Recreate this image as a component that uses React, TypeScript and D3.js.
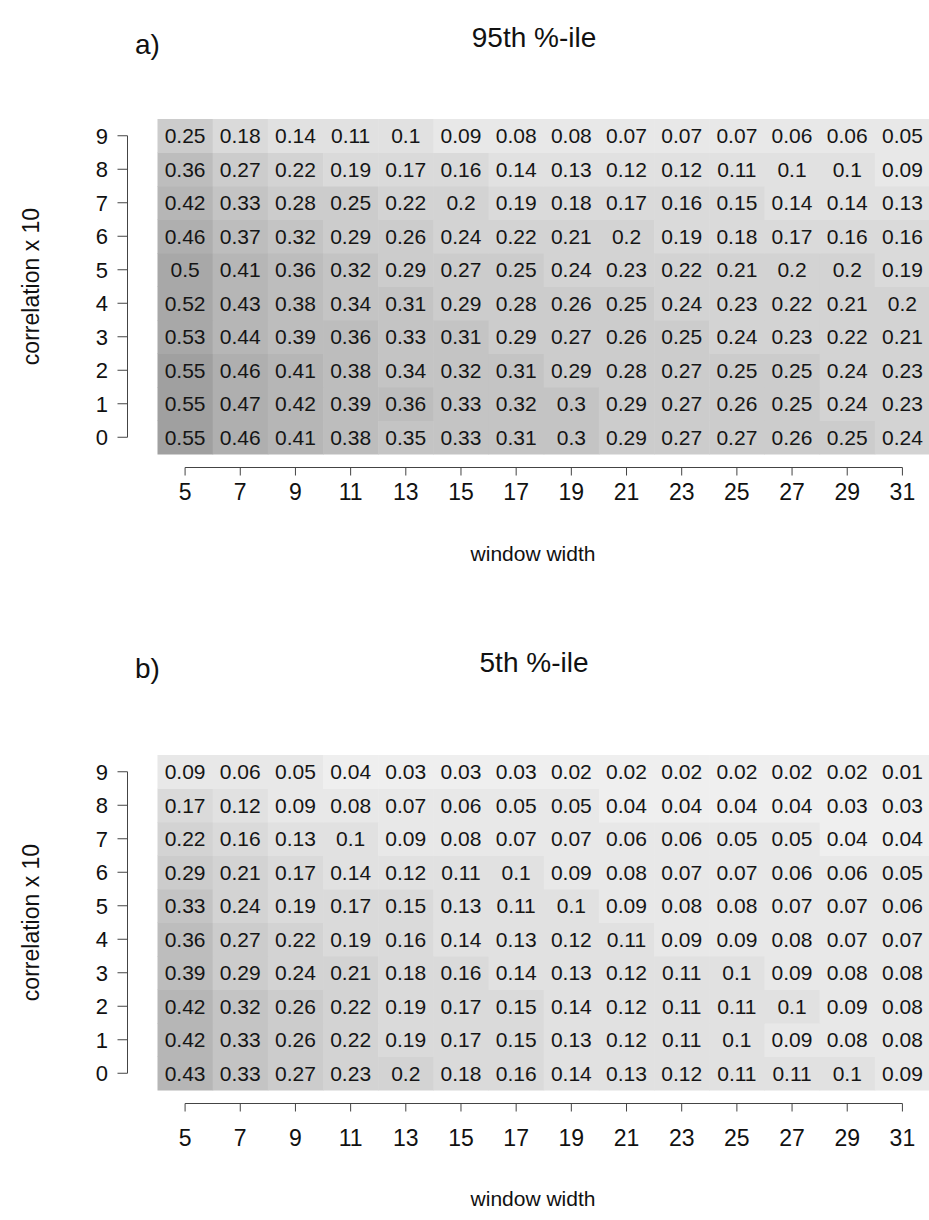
import React from "react";
import * as d3 from "d3";

const windowWidths = [5, 7, 9, 11, 13, 15, 17, 19, 21, 23, 25, 27, 29, 31];
const correlations = [0, 1, 2, 3, 4, 5, 6, 7, 8, 9];

// rows indexed by correlation x 10 (0..9), columns by window width
const p95: number[][] = [
  [0.55, 0.46, 0.41, 0.38, 0.35, 0.33, 0.31, 0.3, 0.29, 0.27, 0.27, 0.26, 0.25, 0.24],
  [0.55, 0.47, 0.42, 0.39, 0.36, 0.33, 0.32, 0.3, 0.29, 0.27, 0.26, 0.25, 0.24, 0.23],
  [0.55, 0.46, 0.41, 0.38, 0.34, 0.32, 0.31, 0.29, 0.28, 0.27, 0.25, 0.25, 0.24, 0.23],
  [0.53, 0.44, 0.39, 0.36, 0.33, 0.31, 0.29, 0.27, 0.26, 0.25, 0.24, 0.23, 0.22, 0.21],
  [0.52, 0.43, 0.38, 0.34, 0.31, 0.29, 0.28, 0.26, 0.25, 0.24, 0.23, 0.22, 0.21, 0.2],
  [0.5, 0.41, 0.36, 0.32, 0.29, 0.27, 0.25, 0.24, 0.23, 0.22, 0.21, 0.2, 0.2, 0.19],
  [0.46, 0.37, 0.32, 0.29, 0.26, 0.24, 0.22, 0.21, 0.2, 0.19, 0.18, 0.17, 0.16, 0.16],
  [0.42, 0.33, 0.28, 0.25, 0.22, 0.2, 0.19, 0.18, 0.17, 0.16, 0.15, 0.14, 0.14, 0.13],
  [0.36, 0.27, 0.22, 0.19, 0.17, 0.16, 0.14, 0.13, 0.12, 0.12, 0.11, 0.1, 0.1, 0.09],
  [0.25, 0.18, 0.14, 0.11, 0.1, 0.09, 0.08, 0.08, 0.07, 0.07, 0.07, 0.06, 0.06, 0.05],
];

const p5: number[][] = [
  [0.43, 0.33, 0.27, 0.23, 0.2, 0.18, 0.16, 0.14, 0.13, 0.12, 0.11, 0.11, 0.1, 0.09],
  [0.42, 0.33, 0.26, 0.22, 0.19, 0.17, 0.15, 0.13, 0.12, 0.11, 0.1, 0.09, 0.08, 0.08],
  [0.42, 0.32, 0.26, 0.22, 0.19, 0.17, 0.15, 0.14, 0.12, 0.11, 0.11, 0.1, 0.09, 0.08],
  [0.39, 0.29, 0.24, 0.21, 0.18, 0.16, 0.14, 0.13, 0.12, 0.11, 0.1, 0.09, 0.08, 0.08],
  [0.36, 0.27, 0.22, 0.19, 0.16, 0.14, 0.13, 0.12, 0.11, 0.09, 0.09, 0.08, 0.07, 0.07],
  [0.33, 0.24, 0.19, 0.17, 0.15, 0.13, 0.11, 0.1, 0.09, 0.08, 0.08, 0.07, 0.07, 0.06],
  [0.29, 0.21, 0.17, 0.14, 0.12, 0.11, 0.1, 0.09, 0.08, 0.07, 0.07, 0.06, 0.06, 0.05],
  [0.22, 0.16, 0.13, 0.1, 0.09, 0.08, 0.07, 0.07, 0.06, 0.06, 0.05, 0.05, 0.04, 0.04],
  [0.17, 0.12, 0.09, 0.08, 0.07, 0.06, 0.05, 0.05, 0.04, 0.04, 0.04, 0.04, 0.03, 0.03],
  [0.09, 0.06, 0.05, 0.04, 0.03, 0.03, 0.03, 0.02, 0.02, 0.02, 0.02, 0.02, 0.02, 0.01],
];

const panelLetters = ["a)", "b)"];
const panelTitles = ["95th %-ile", "5th %-ile"];
const xTitle = "window width";
const yTitle = "correlation x 10";

const FONT = "'Liberation Sans', Arial, Helvetica, sans-serif";
const W = 929;
const H = 1220;

const grayLin = d3.scaleLinear<string>().domain([0, 0.55]).range(["#f3f3f3", "#a4a4a4"]);
const nBins = 12;
const color = d3
  .scaleQuantize<string>()
  .domain([0, 0.6])
  .range(d3.range(nBins).map((i) => grayLin((i + 0.5) * (0.6 / nBins))));

type Layout = {
  letterY: number;
  titleY: number;
  gridTop: number;
  gridBottom: number;
  axisY: number;
  labelY: number;
  xTitleY: number;
};

const layouts: Layout[] = [
  { letterY: 54, titleY: 47, gridTop: 119, gridBottom: 454, axisY: 467.5, labelY: 492, xTitleY: 553 },
  { letterY: 678, titleY: 672, gridTop: 755, gridBottom: 1090, axisY: 1103.5, labelY: 1138, xTitleY: 1198 },
];

function Panel({ data, idx }: { data: number[][]; idx: number }) {
  const L = layouts[idx];
  const x = d3.scaleBand<number>().domain(windowWidths).range([157.5, 930]).padding(0);
  const y = d3
    .scaleBand<number>()
    .domain([...correlations].reverse())
    .range([L.gridTop, L.gridBottom])
    .padding(0);
  const xc = (w: number) => (x(w) as number) + x.bandwidth() / 2;
  const yc = (c: number) => (y(c) as number) + y.bandwidth() / 2;
  const axisColor = "#444";
  const yAxisX = 127.5;
  const midY = (yc(0) + yc(9)) / 2;
  return (
    <g>
      <text x={135} y={L.letterY} fontSize={28} fontFamily={FONT} fill="#111">
        {panelLetters[idx]}
      </text>
      <text x={534} y={L.titleY} fontSize={28} fontFamily={FONT} fill="#111" textAnchor="middle">
        {panelTitles[idx]}
      </text>
      {correlations.map((c) =>
        windowWidths.map((w, j) => (
          <rect
            key={`r${c}-${w}`}
            x={x(w)}
            y={y(c)}
            width={x.bandwidth() + 0.5}
            height={y.bandwidth() + 0.5}
            fill={color(data[c][j])}
          />
        ))
      )}
      {correlations.map((c) =>
        windowWidths.map((w, j) => (
          <text
            key={`t${c}-${w}`}
            x={xc(w)}
            y={yc(c)}
            dy="0.36em"
            textAnchor="middle"
            fontSize={21}
            fontFamily={FONT}
            fill="#151515"
          >
            {String(data[c][j])}
          </text>
        ))
      )}
      {/* y axis */}
      <line x1={yAxisX} x2={yAxisX} y1={yc(9)} y2={yc(0)} stroke={axisColor} strokeWidth={1} />
      {correlations.map((c) => (
        <g key={`yt${c}`}>
          <line x1={yAxisX - 10} x2={yAxisX} y1={yc(c)} y2={yc(c)} stroke={axisColor} strokeWidth={1} />
          <text
            x={108}
            y={yc(c)}
            dy="0.36em"
            textAnchor="end"
            fontSize={22}
            fontFamily={FONT}
            fill="#111"
          >
            {c}
          </text>
        </g>
      ))}
      <text
        transform={`translate(31,${midY}) rotate(-90)`}
        textAnchor="middle"
        dy="0.36em"
        fontSize={23}
        fontFamily={FONT}
        fill="#111"
      >
        {yTitle}
      </text>
      {/* x axis */}
      <line
        x1={xc(windowWidths[0])}
        x2={xc(windowWidths[windowWidths.length - 1])}
        y1={L.axisY}
        y2={L.axisY}
        stroke={axisColor}
        strokeWidth={1}
      />
      {windowWidths.map((w) => (
        <g key={`xt${w}`}>
          <line x1={xc(w)} x2={xc(w)} y1={L.axisY} y2={L.axisY + 8} stroke={axisColor} strokeWidth={1} />
          <text
            x={xc(w)}
            y={L.labelY}
            dy="0.36em"
            textAnchor="middle"
            fontSize={23}
            fontFamily={FONT}
            fill="#111"
          >
            {w}
          </text>
        </g>
      ))}
      <text
        x={533}
        y={L.xTitleY}
        dy="0.36em"
        textAnchor="middle"
        fontSize={21}
        fontFamily={FONT}
        fill="#111"
      >
        {xTitle}
      </text>
    </g>
  );
}

export default function App() {
  return (
    <svg
      width={W}
      height={H}
      viewBox={`0 0 ${W} ${H}`}
      style={{ position: "absolute", left: 0, top: 0, background: "#fff" }}
    >
      <rect x={0} y={0} width={W} height={H} fill="#fff" />
      <Panel data={p95} idx={0} />
      <Panel data={p5} idx={1} />
    </svg>
  );
}
